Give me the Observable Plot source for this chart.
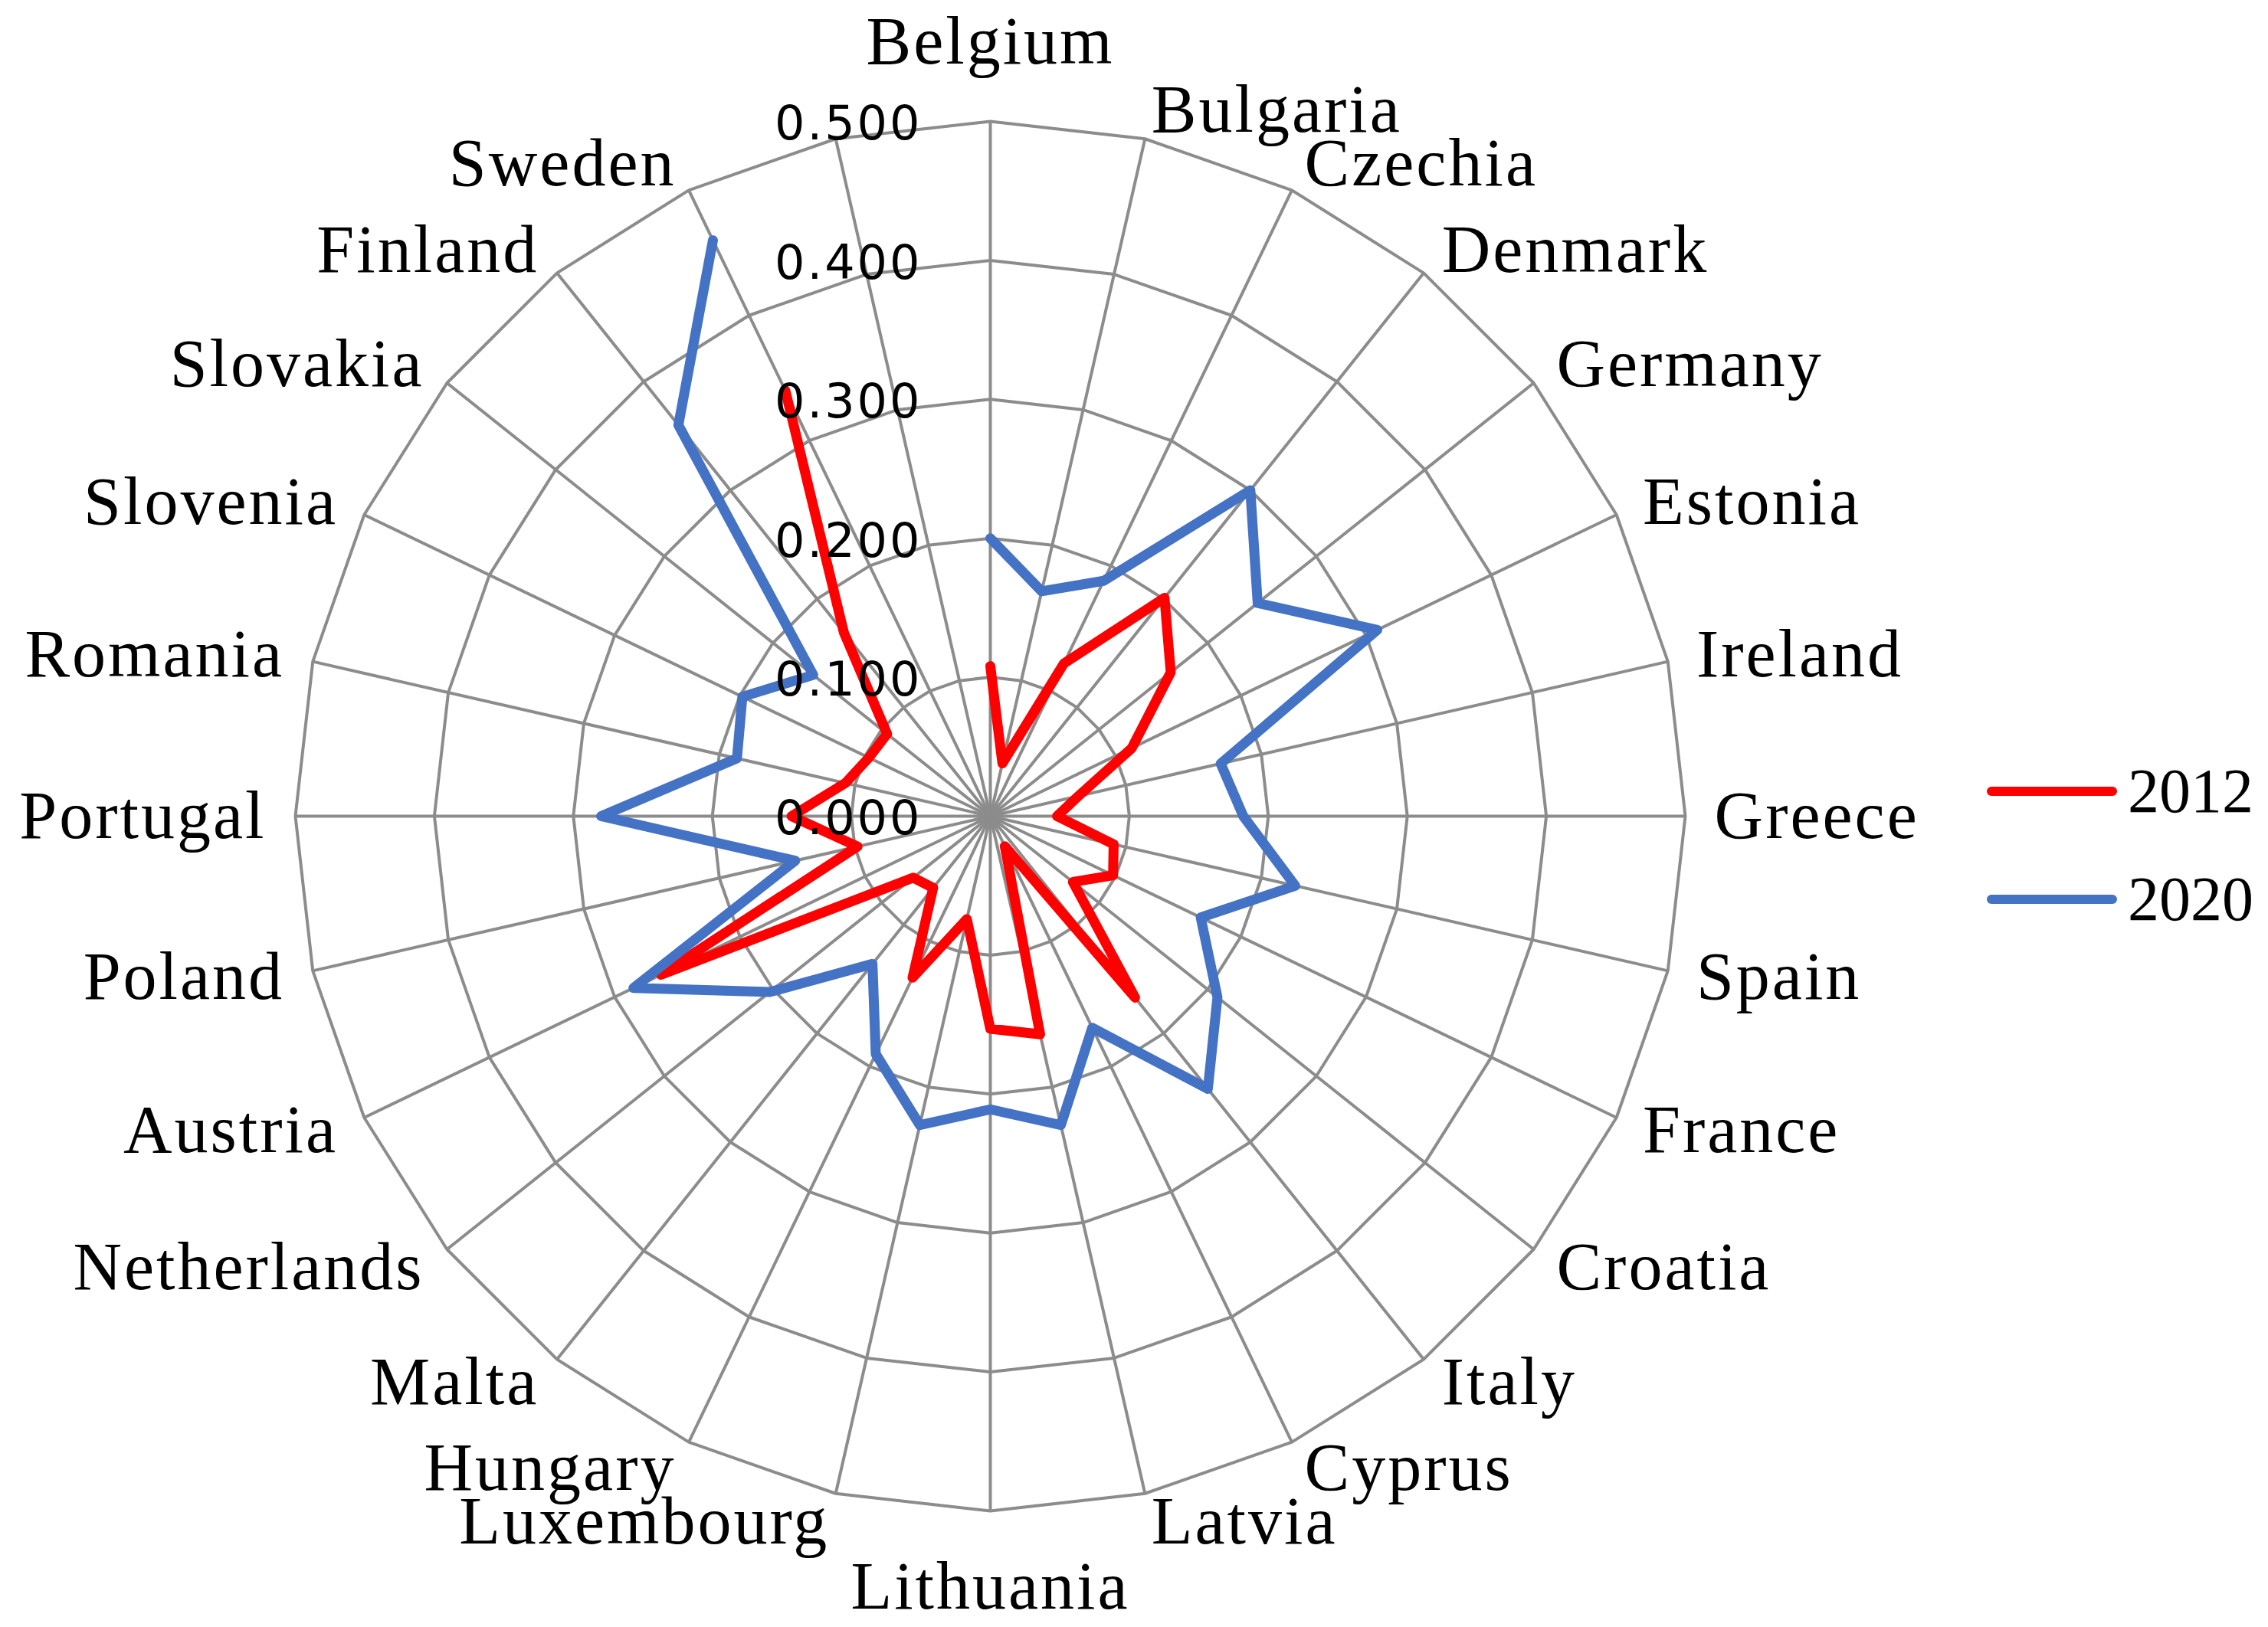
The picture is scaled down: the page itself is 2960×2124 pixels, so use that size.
<!DOCTYPE html>
<html>
<head>
<meta charset="utf-8">
<script src="https://cdn.jsdelivr.net/npm/d3@7"></script>
<script src="https://cdn.jsdelivr.net/npm/@observablehq/plot@0.6"></script>
<style>
  html, body { margin: 0; padding: 0; background: #ffffff; }
  #wrap { position: relative; width: 2960px; height: 2124px; overflow: hidden; background: #ffffff; }
  .legend-row { position: absolute; display: flex; align-items: center; height: 82px;
    font-family: "Liberation Serif", serif; font-size: 82px; line-height: 1; color: #000; }
  .legend-row .sw { width: 170px; height: 12px; border-radius: 6px; margin-right: 14px; }
</style>
</head>
<body>
<div id="wrap"></div>
<script>
// ---- data ----
const countries = ["Belgium","Bulgaria","Czechia","Denmark","Germany","Estonia","Ireland","Greece",
  "Spain","France","Croatia","Italy","Cyprus","Latvia","Lithuania","Luxembourg","Hungary","Malta",
  "Netherlands","Austria","Poland","Portugal","Romania","Slovenia","Slovakia","Finland","Sweden",""];
const values2012 = [0.108,0.039,0.122,0.201,0.166,0.113,0.065,0.048,0.091,0.098,0.076,0.167,0.024,0.161,
  0.153,0.076,0.129,0.066,0.071,0.263,0.098,0.143,0.107,0.097,0.095,0.169,0.340,null];
const values2020 = [0.200,0.166,0.188,0.300,0.246,0.309,0.170,0.182,0.225,0.168,0.209,0.251,0.169,0.228,
  0.211,0.228,0.190,0.136,0.203,0.285,0.144,0.280,0.187,0.198,0.163,0.360,0.460,null];
const seriesNames = ["2012","2020"];
const seriesColors = ["#FF0000","#4472C4"];
const tickValues = [0,0.1,0.2,0.3,0.4,0.5];
const maxValue = 0.5;

// ---- helpers: category -> longitude, value -> latitude (azimuthal radar) ----
const n = countries.length;
const lon = i => 180 - i * 360 / n;
const lat = v => 90 - v * (50 / maxValue);
const idx = countries.map((c, i) => i);

const rows = [];
countries.forEach((c, i) => {
  if (values2012[i] != null) rows.push({series: seriesNames[0], i, v: values2012[i]});
});
countries.forEach((c, i) => {
  if (values2020[i] != null) rows.push({series: seriesNames[1], i, v: values2020[i]});
});
const ringRows = tickValues.filter(t => t > 0).flatMap(t => idx.map(i => ({t, i})));

const grid = "#8c8c8c";
const serif = "Liberation Serif";
const rightIdx = idx.filter(i => countries[i] && lon(i) < 180 && lon(i) > 0);
const leftIdx = idx.filter(i => countries[i] && lon(i) < 0 && lon(i) > -180);
const topIdx = idx.filter(i => lon(i) === 180);
const bottomIdx = idx.filter(i => lon(i) === 0);

const chart = Plot.plot({
  width: 2960,
  height: 2124,
  marginLeft: 385, marginRight: 761, marginTop: 158, marginBottom: 152,
  style: {background: "#ffffff", overflow: "visible", letterSpacing: "3px"},
  projection: {
    type: "azimuthal-equidistant",
    rotate: [0, -90],
    domain: d3.geoCircle().center([0, 90]).radius(50)(),
    clip: false
  },
  color: {domain: seriesNames, range: seriesColors},
  marks: [
    Plot.line(ringRows, {x: d => lon(d.i), y: d => lat(d.t), z: "t", curve: "linear-closed",
      stroke: grid, strokeWidth: 4}),
    Plot.link(idx, {x1: i => lon(i), y1: 90, x2: i => lon(i), y2: lat(maxValue), curve: "linear",
      stroke: grid, strokeWidth: 4}),
    Plot.line(rows, {x: d => lon(d.i), y: d => lat(d.v), z: "series", stroke: "series",
      strokeWidth: 13, curve: "linear", strokeLinejoin: "round", strokeLinecap: "round"}),
    Plot.text(tickValues, {x: 180, y: t => lat(t), text: d3.format(".3f"), dx: -89, dy: 4,
      textAnchor: "end", lineAnchor: "middle", fontSize: 62, fontFamily: "DejaVu Sans", fill: "#000"}),
    Plot.text(rightIdx, {x: i => lon(i), y: lat(maxValue) - 2.1, text: i => countries[i],
      textAnchor: "start", lineAnchor: "middle", fontSize: 88, fontFamily: serif, fill: "#000"}),
    Plot.text(leftIdx, {x: i => lon(i), y: lat(maxValue) - 2.1, text: i => countries[i],
      textAnchor: "end", lineAnchor: "middle", fontSize: 88, fontFamily: serif, fill: "#000"}),
    Plot.text(topIdx, {x: i => lon(i), y: lat(maxValue) - 5.7, text: i => countries[i],
      textAnchor: "middle", lineAnchor: "middle", fontSize: 88, fontFamily: serif, fill: "#000"}),
    Plot.text(bottomIdx, {x: i => lon(i), y: lat(maxValue) - 5.5, text: i => countries[i],
      textAnchor: "middle", lineAnchor: "middle", fontSize: 88, fontFamily: serif, fill: "#000"})
  ]
});

const wrap = document.getElementById("wrap");
wrap.appendChild(chart);

// legend (HTML, to the right of the chart)
const legendTops = [992, 1133];
seriesNames.forEach((name, k) => {
  const row = document.createElement("div");
  row.className = "legend-row";
  row.style.left = "2593px";
  row.style.top = legendTops[k] + "px";
  const sw = document.createElement("span");
  sw.className = "sw";
  sw.style.background = seriesColors[k];
  const tx = document.createElement("span");
  tx.textContent = name;
  row.appendChild(sw);
  row.appendChild(tx);
  wrap.appendChild(row);
});
</script>
</body>
</html>
